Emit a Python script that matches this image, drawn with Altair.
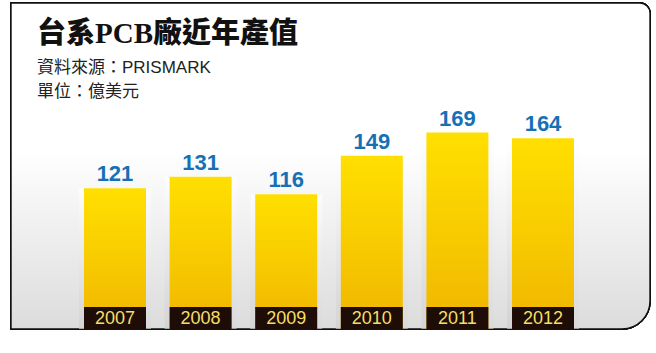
import altair as alt
import pandas as pd

years = ["2007", "2008", "2009", "2010", "2011", "2012"]
values = [121, 131, 116, 149, 169, 164]

title_text = "台系PCB廠近年產值"
source_text = "資料來源：PRISMARK"
unit_text = "單位：億美元"

df = pd.DataFrame({"year": years, "value": values})

W, H = 656, 353
x_scale = alt.Scale(domain=years, range=[84, 574], paddingInner=0.276, paddingOuter=0)
y_scale = alt.Scale(domain=[0, 283], range=[329, 0], nice=False, zero=True)

X = alt.X("year:N", scale=x_scale, axis=None)

frame = alt.Chart(df).mark_rect(
    fill=alt.Gradient(
        gradient="linear", x1=0, x2=0, y1=0, y2=1,
        stops=[alt.GradientStop(color="#ffffff", offset=0),
               alt.GradientStop(color="#ffffff", offset=0.45),
               alt.GradientStop(color="#dcdcdc", offset=1)]),
    stroke="#111111", strokeWidth=1.4,
    cornerRadiusTopRight=10, cornerRadiusBottomRight=28,
).encode(x=alt.value(11), x2=alt.value(650), y=alt.value(3), y2=alt.value(329))

shadow = alt.Chart(df).mark_bar(
    xOffset=-5,
    fill=alt.Gradient(
        gradient="linear", x1=0, x2=0, y1=0, y2=1,
        stops=[alt.GradientStop(color="#ffffff", offset=0),
               alt.GradientStop(color="#d0d0d0", offset=1)]),
    opacity=0.7,
).encode(X, y=alt.Y("value:Q", scale=y_scale, axis=None), y2=alt.datum(0))

shadow2 = alt.Chart(df).mark_bar(
    xOffset=5,
    fill=alt.Gradient(
        gradient="linear", x1=0, x2=0, y1=0, y2=1,
        stops=[alt.GradientStop(color="#ffffff", offset=0),
               alt.GradientStop(color="#d8d8d8", offset=1)]),
    opacity=0.6,
).encode(X, y=alt.Y("value:Q", scale=y_scale, axis=None), y2=alt.datum(0))

bars = alt.Chart(df).mark_bar(
    fill=alt.Gradient(
        gradient="linear", x1=0, x2=0, y1=0, y2=1,
        stops=[alt.GradientStop(color="#FFDF00", offset=0),
               alt.GradientStop(color="#F8CC00", offset=0.5),
               alt.GradientStop(color="#F0B400", offset=1)]),
).encode(X, y=alt.Y("value:Q", scale=y_scale, axis=None), y2=alt.datum(0))

band = alt.Chart(df).mark_bar(color="#1e0c06").encode(
    X, y=alt.value(307), y2=alt.value(329)
)

year_text = alt.Chart(df).mark_text(
    color="#F3DF66", fontSize=18, font="Liberation Sans", baseline="middle", align="center"
).encode(X, y=alt.value(318.5), text="year:N")

val_text = alt.Chart(df).mark_text(
    color="#1670B6", fontSize=22, fontWeight="bold", font="Liberation Sans",
    baseline="alphabetic", align="center", dy=-7
).encode(X, y=alt.Y("value:Q", scale=y_scale, axis=None), text="value:Q")

title = alt.Chart(pd.DataFrame({"t": [title_text]})).mark_text(
    fontSize=29, fontWeight=900, font="Liberation Serif, Noto Sans CJK TC",
    align="left", baseline="middle", color="#111111"
).encode(x=alt.value(37), y=alt.value(34), text="t:N")

src = alt.Chart(pd.DataFrame({"t": [source_text]})).mark_text(
    fontSize=17, font="Liberation Sans, Noto Sans CJK TC",
    align="left", baseline="middle", color="#222222"
).encode(x=alt.value(37), y=alt.value(68), text="t:N")

unit = alt.Chart(pd.DataFrame({"t": [unit_text]})).mark_text(
    fontSize=17, font="Liberation Sans, Noto Sans CJK TC",
    align="left", baseline="middle", color="#222222"
).encode(x=alt.value(37), y=alt.value(92), text="t:N")

chart = alt.layer(
    frame, shadow, shadow2, bars, band, year_text, val_text, title, src, unit
).properties(
    width=W, height=H, padding=0, autosize=alt.AutoSizeParams(type="none"),
    background="#ffffff",
).configure_view(stroke=None)

chart.save("out.html", embed_options={"renderer": "svg", "actions": False})
